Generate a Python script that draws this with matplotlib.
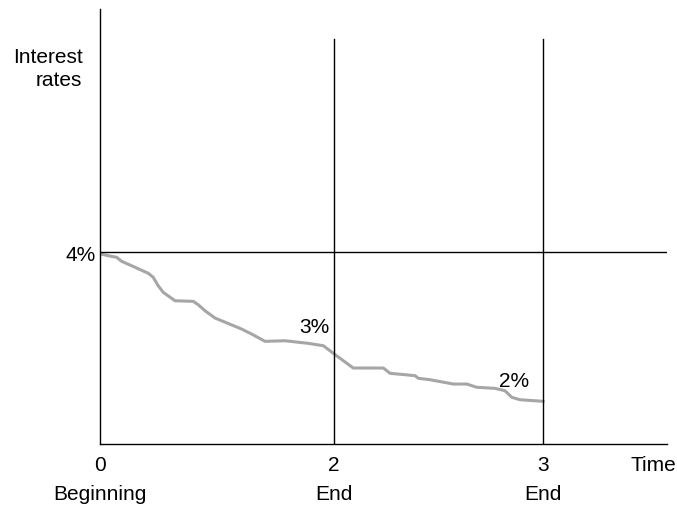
import matplotlib.pyplot as plt
import numpy as np

plt.rcParams['font.family'] = ['Liberation Sans', 'DejaVu Sans']

# time (years) vs interest rate (%)
time = [0.0, 0.009, 0.071, 0.142, 0.185, 0.270, 0.413, 0.455, 0.497, 0.540,
        0.641, 0.797, 0.839, 0.897, 0.983, 1.210, 1.296, 1.410, 1.581, 1.780,
        1.909, 2.001, 2.092, 2.236, 2.268, 2.388, 2.403, 2.459, 2.571, 2.635,
        2.683, 2.770, 2.818, 2.850, 2.890, 3.0]
rate = [3.98, 3.973, 3.950, 3.929, 3.875, 3.816, 3.714, 3.660, 3.548, 3.459,
        3.346, 3.338, 3.293, 3.212, 3.114, 2.966, 2.899, 2.801, 2.809, 2.774,
        2.742, 2.631, 2.443, 2.443, 2.372, 2.340, 2.305, 2.286, 2.228, 2.228,
        2.184, 2.170, 2.138, 2.050, 2.017, 1.996]

tick_pos = [0, 2, 3]
tick_labels = ['0', '2', '3']
sub_labels = ['Beginning', 'End', 'End']
ref_rate = 4
rate_notes = [(1.83, 3.0, '3%'), (2.86, 2.27, '2%')]

# the time axis is not evenly spaced in the drawing
t_knots = [-1, 0, 2, 3, 5]
p_knots = [-117, 0, 234, 443, 861]


def fwd(t):
    return np.interp(t, t_knots, p_knots)


def inv(p):
    return np.interp(p, p_knots, t_knots)


fs = 15
fig = plt.figure(figsize=(6.77, 5.06), dpi=100)
ax = fig.add_axes([100 / 677, 61 / 506, 567 / 677, 435 / 506])
ax.set_xscale('function', functions=(fwd, inv))
ax.set_xlim(0, 3.593)
ax.set_ylim(1.423, 7.262)

ax.plot(time, rate, color='#a6a6a6', lw=2.2, solid_joinstyle='round')
ax.axhline(ref_rate, color='black', lw=1)
for t in tick_pos[1:]:
    ax.axvline(t, ymin=0, ymax=0.931, color='black', lw=1)

for s in ['top', 'right']:
    ax.spines[s].set_visible(False)
for s in ['left', 'bottom']:
    ax.spines[s].set_linewidth(1)

ax.set_xticks(tick_pos)
ax.set_xticklabels(tick_labels, fontsize=fs)
ax.set_yticks([ref_rate])
ax.set_yticklabels(['4%'], fontsize=fs)
ax.tick_params(axis='x', length=0, pad=8)
ax.tick_params(axis='y', length=0, pad=3)

for t, lab in zip(tick_pos, sub_labels):
    ax.text(t, 0.752, lab, ha='center', va='center', fontsize=fs, clip_on=False)
ax.text(3.53, 1.154, 'Time', ha='center', va='center', fontsize=fs, clip_on=False)
ax.text(-0.15, 6.47, 'Interest\nrates', ha='right', va='center', fontsize=fs,
        linespacing=1.3, clip_on=False)
for t, r, lab in rate_notes:
    ax.text(t, r, lab, ha='center', va='center', fontsize=fs)

fig.savefig('out.png', dpi=100)
